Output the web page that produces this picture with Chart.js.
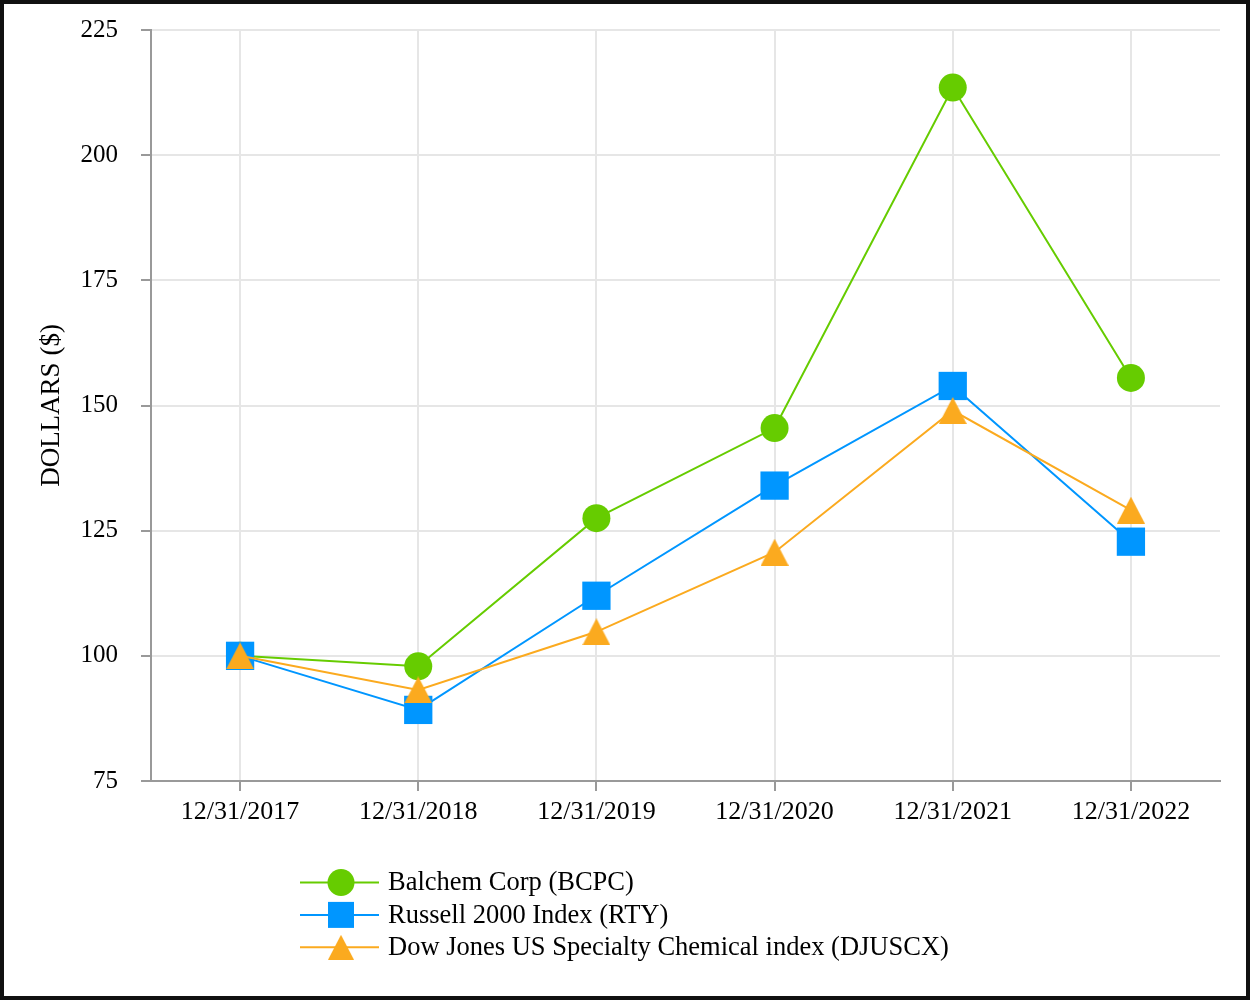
<!DOCTYPE html>
<html>
<head>
<meta charset="utf-8">
<script src="https://cdn.jsdelivr.net/npm/chart.js@4/dist/chart.umd.min.js"></script>
<style>
  html, body { margin: 0; padding: 0; background: #fff; }
  #frame {
    width: 1250px; height: 1000px; box-sizing: border-box;
    border: 4px solid #111; background: #fff;
  }
  #perf { display: block; }
</style>
</head>
<body>
<div id="frame"><canvas id="perf" width="1242" height="992"></canvas></div>
<script>
const categories = ["12/31/2017", "12/31/2018", "12/31/2019", "12/31/2020", "12/31/2021", "12/31/2022"];
const bcpcValues = [100, 97.9, 127.5, 145.5, 213.5, 155.5];
const rtyValues = [100, 89.2, 112.0, 134.0, 153.9, 122.8];
const djuscxValues = [100, 93.2, 104.8, 120.7, 149.0, 129.1];
const yMin = 75;
const yMax = 225;
const yStep = 25;

const seriesNames = [
  "Balchem Corp (BCPC)",
  "Russell 2000 Index (RTY)",
  "Dow Jones US Specialty Chemical index (DJUSCX)",
];

const GREEN = "#66cc00";
const BLUE = "#0096ff";
const ORANGE = "#fbaa1f";
const FONT = "'Liberation Serif', 'Times New Roman', serif";

// triangle marker, centred on its bounding box like the original
function triangleImage(color, w, h) {
  const c = document.createElement("canvas");
  c.width = w;
  c.height = h;
  const g = c.getContext("2d");
  g.fillStyle = color;
  g.beginPath();
  g.moveTo(w / 2, 0);
  g.lineTo(w, h);
  g.lineTo(0, h);
  g.closePath();
  g.fill();
  return c;
}

const triangle = triangleImage(ORANGE, 28, 27);

// legend drawn by hand: line through the marker, one entry per row
const lineLegend = {
  id: "lineLegend",
  afterDraw(chart) {
    const ctx = chart.ctx;
    const colors = [GREEN, BLUE, ORANGE];
    ctx.save();
    seriesNames.forEach((name, i) => {
      const y = 878.5 + i * 32.4;
      ctx.strokeStyle = colors[i];
      ctx.lineWidth = 2;
      ctx.beginPath();
      ctx.moveTo(296, y);
      ctx.lineTo(375, y);
      ctx.stroke();

      ctx.fillStyle = colors[i];
      if (i === 0) {
        ctx.beginPath();
        ctx.arc(337, y, 13.5, 0, Math.PI * 2);
        ctx.fill();
      } else if (i === 1) {
        ctx.fillRect(337 - 13, y - 13, 26, 26);
      } else {
        ctx.drawImage(triangleImage(ORANGE, 26, 25), 337 - 13, y - 12.5);
      }

      ctx.fillStyle = "#000";
      ctx.font = "26.5px " + FONT;
      ctx.textBaseline = "middle";
      ctx.textAlign = "left";
      ctx.fillText(name, 384, y + 1);
    });
    ctx.restore();
  },
};

new Chart(document.getElementById("perf"), {
  type: "line",
  data: {
    labels: categories,
    datasets: [
      {
        label: seriesNames[0],
        data: bcpcValues,
        borderColor: GREEN,
        backgroundColor: GREEN,
        borderWidth: 2,
        pointStyle: "circle",
        pointRadius: 14,
        pointBorderWidth: 0,
        pointBackgroundColor: GREEN,
        tension: 0,
        order: 2,
      },
      {
        label: seriesNames[1],
        data: rtyValues,
        borderColor: BLUE,
        backgroundColor: BLUE,
        borderWidth: 2,
        pointStyle: "rect",
        pointRadius: 20,
        pointBorderWidth: 0,
        pointBackgroundColor: BLUE,
        tension: 0,
        order: 1,
      },
      {
        label: seriesNames[2],
        data: djuscxValues,
        borderColor: ORANGE,
        backgroundColor: ORANGE,
        borderWidth: 2,
        pointStyle: triangle,
        pointRadius: 14,
        pointBorderWidth: 0,
        tension: 0,
        order: 0,
      },
    ],
  },
  options: {
    responsive: false,
    animation: false,
    events: [],
    layout: { padding: { top: 0, right: 26, bottom: 165, left: 0 } },
    plugins: {
      legend: { display: false },
      tooltip: { enabled: false },
    },
    scales: {
      x: {
        offset: true,
        afterFit: (scale) => { scale.height = 50; },
        grid: { color: "#e6e6e6", lineWidth: 2, tickColor: "#999", tickLength: 10, offset: false },
        border: { color: "#999", width: 2 },
        ticks: { color: "#000", font: { family: FONT, size: 26 }, padding: 6, maxRotation: 0 },
      },
      y: {
        min: yMin,
        max: yMax,
        afterFit: (scale) => {
          scale.width = 147;
          scale.paddingTop = 26;
          scale.paddingBottom = 0;
        },
        grid: { color: "#e6e6e6", lineWidth: 2, tickColor: "#999", tickLength: 10 },
        border: { color: "#999", width: 2 },
        ticks: { stepSize: yStep, color: "#000", font: { family: FONT, size: 25 }, padding: 23 },
        title: {
          display: true,
          text: "DOLLARS ($)",
          color: "#000",
          font: { family: FONT, size: 27 },
          padding: { top: 32, bottom: 0 },
        },
      },
    },
  },
  plugins: [lineLegend],
});
</script>
</body>
</html>
